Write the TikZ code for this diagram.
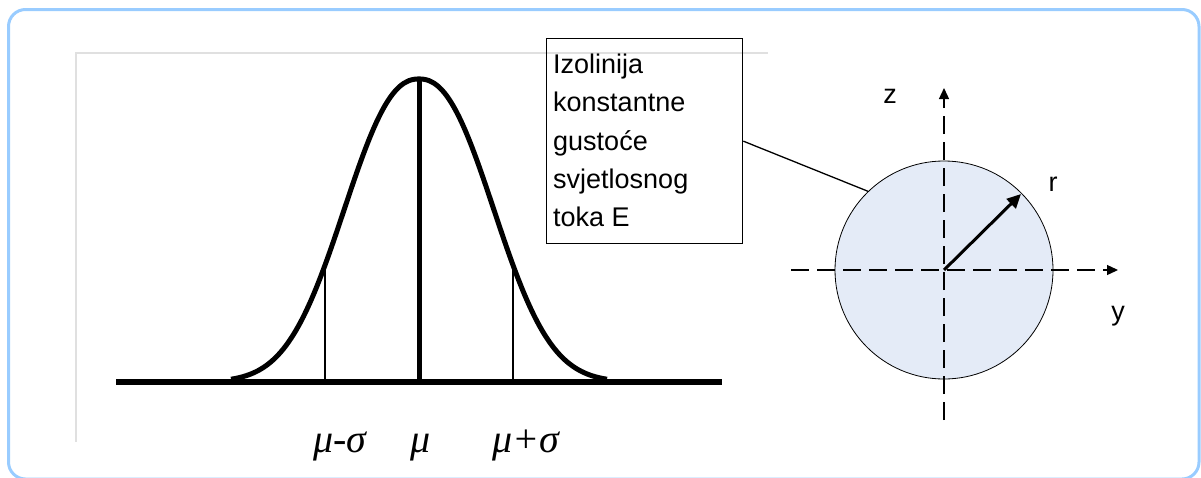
\documentclass[tikz,border=0pt]{standalone}
\usepackage{fontspec}
\setmainfont{Liberation Sans}
\newfontfamily\serifgr{Liberation Serif}
\usetikzlibrary{arrows.meta}
\definecolor{frameblue}{RGB}{153,204,255}
\definecolor{framegray}{RGB}{224,224,224}
\definecolor{discfill}{RGB}{228,235,247}
\begin{document}
\begin{tikzpicture}[x=1pt,y=-1pt,
  thick line/.style={line width=5pt},
  sigma line/.style={line width=1.2pt},
  greek/.style={anchor=base, inner sep=0pt, font=\serifgr\itshape\fontsize{40}{48}\selectfont},
  lbl/.style={anchor=base, inner sep=0pt, font=\fontsize{27}{30}\selectfont},
  axis/.style={line width=1.3pt, dash pattern=on 18pt off 8pt, -{Triangle[length=11pt,width=10pt]}},
  callout/.style={draw, line width=1.3pt, minimum width=196pt, minimum height=205pt, anchor=north west, inner sep=0pt}
]
\useasboundingbox (0,0) rectangle (1201,477);
\clip (0,0) rectangle (1201,477);
% outer frame
\draw[frameblue, line width=3pt, rounded corners=17pt] (8.5,9.5) rectangle (1199,479);
% inner gray frame of the bell-curve figure
\draw[framegray, line width=1.5pt] (76,442) -- (76,53) -- (768,53);
% bell curve
\draw[thick line, line join=round] plot[domain=-188:188, samples=151]
  ({419+\x},{382-303*exp(-pow(abs(\x)/96+0.0001,2.3))});
\coordinate (peak) at (419,79);
\coordinate (mu) at (419,382);
\draw[thick line] (peak) -- (mu);
\coordinate (ms) at (325,382);
\coordinate (mstop) at (325,265);
\coordinate (ps) at (513,382);
\coordinate (pstop) at (513,265);
\draw[sigma line] (ms) -- (mstop);
\draw[sigma line] (ps) -- (pstop);
\coordinate (bl) at (116,382);
\coordinate (br) at (722,382);
\draw[line width=6pt] (bl) -- (br);
\node[greek] (lms) at (340,452) {μ-σ};
\node[greek] (lmu) at (421,452) {μ};
\node[greek] (lps) at (526,452) {μ+σ};
% callout box
\node[callout] (box) at (546,38) {};
\node[anchor=base west, align=left, inner sep=0pt, font=\fontsize{27}{38.3}\selectfont] (boxtext) at (553,226.7)
  {Izolinija\\konstantne\\gustoće\\svjetlosnog\\toka E};
% disc
\node[circle, draw, fill=discfill, line width=0.8pt, minimum size=218pt, inner sep=0pt] (disc) at (944,270) {};
\coordinate (ztop) at (944,88);
\coordinate (zbot) at (944,420);
\coordinate (yleft) at (791,270);
\coordinate (yright) at (1118,270);
\draw[axis] (zbot) -- (ztop);
\draw[axis] (yleft) -- (yright);
\coordinate (rtip) at (1021,194);
\draw[line width=3pt, -{Triangle[length=14pt,width=13pt]}] (disc.center) -- (rtip);
\draw[line width=1.3pt] (box.east) -- (disc.134);
\node[lbl] (zl) at (890,103) {z};
\node[lbl] (rl) at (1053,191) {r};
\node[lbl] (yl) at (1118,320) {y};
\end{tikzpicture}
\end{document}
